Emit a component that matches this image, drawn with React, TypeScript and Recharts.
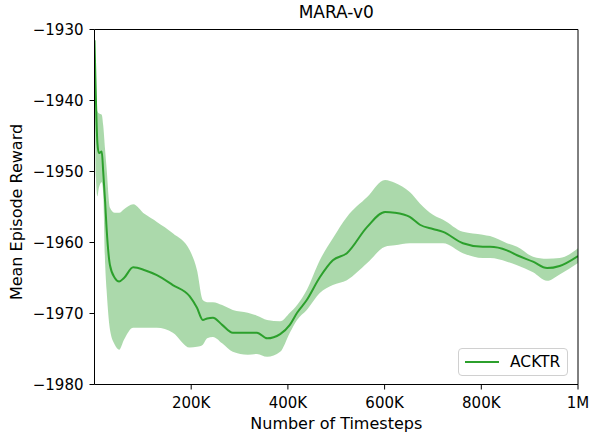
import React from "react";
import { ComposedChart, Area, Line, XAxis, YAxis, ReferenceLine } from "recharts";

// timesteps (thousands)
const steps = [0, 3, 6, 9, 15, 18, 22, 25, 32, 42, 51, 61, 80, 104, 129, 162, 197, 212, 224, 233, 245, 264, 286, 317, 336, 357, 384, 404, 419, 439, 466, 493, 522, 564, 601, 621, 652, 673, 700, 721, 762, 803, 818, 853, 874, 907, 936, 962, 1000];
const meanReward = [-1931.5, -1940, -1946, -1947.4, -1947.2, -1950, -1954.3, -1958, -1963.2, -1965, -1965.5, -1965, -1963.5, -1963.9, -1964.6, -1966, -1967.6, -1969.2, -1970.9, -1970.7, -1970.6, -1971.6, -1972.7, -1972.7, -1972.7, -1973.5, -1972.9, -1971.6, -1969.9, -1968.1, -1964.9, -1962.5, -1961.5, -1957.8, -1955.7, -1955.8, -1956.4, -1957.5, -1958.1, -1958.5, -1960.1, -1960.6, -1960.6, -1961.1, -1961.8, -1962.7, -1963.6, -1963.3, -1961.9];
const upperReward = [-1931, -1940, -1941.5, -1941.8, -1942, -1943.5, -1947, -1949.5, -1955.1, -1955.8, -1955.8, -1955.3, -1954.6, -1956, -1957.1, -1958.7, -1961.1, -1963.9, -1968.1, -1968.4, -1968.4, -1968.8, -1969.5, -1969.9, -1970.3, -1970.9, -1971.1, -1969.9, -1968.8, -1966.7, -1962.5, -1959.4, -1956.4, -1953.6, -1951.2, -1951.6, -1952.9, -1954.5, -1956.1, -1956.8, -1958.5, -1958.9, -1959.1, -1960.1, -1960.6, -1962, -1962.3, -1962.2, -1960.8];
const lowerReward = [-1932, -1951, -1953.5, -1952.3, -1951.5, -1953, -1963, -1966.7, -1972.3, -1974.4, -1975.1, -1973.7, -1972, -1972, -1972, -1972.7, -1974.8, -1974.7, -1974.4, -1973.5, -1973.3, -1974.2, -1975.4, -1975.8, -1975.7, -1976.1, -1975.4, -1972.7, -1970.9, -1969.5, -1967.1, -1966, -1965.3, -1962.9, -1960.6, -1960.4, -1960.1, -1960.1, -1960.1, -1960.1, -1961.5, -1962.2, -1962.2, -1962.7, -1963.2, -1964.2, -1965.4, -1964.5, -1962.9];

const xTicks = [200000, 400000, 600000, 800000, 1000000];
const yTicks = [-1980, -1970, -1960, -1950, -1940, -1930];

const GREEN = "#2ca02c";
const FONT = "'DejaVu Sans', sans-serif";

const data = steps.map((k, i) => ({
  t: k * 1000,
  mean: meanReward[i],
  band: [lowerReward[i], upperReward[i]],
}));

const fmtX = (v: number) => (v >= 1000000 ? `${v / 1000000}M` : `${v / 1000}K`);
const fmtY = (v: number) => (v < 0 ? `\u2212${Math.abs(v)}` : `${v}`);

const tickStyle = { fontSize: 15, fill: "#000", fontFamily: FONT };

function LegendBox() {
  return (
    <div
      style={{
        position: "absolute",
        left: 458,
        top: 348,
        width: 110,
        height: 28,
        border: "1px solid #d0d0d0",
        borderRadius: 4,
        background: "rgba(255,255,255,0.8)",
        display: "flex",
        alignItems: "center",
        fontFamily: FONT,
        fontSize: 15.5,
        color: "#000",
        boxSizing: "border-box",
      }}
    >
      <svg width={46} height={10} style={{ marginLeft: 5 }}>
        <line x1={1} y1={5} x2={35} y2={5} stroke={GREEN} strokeWidth={2} />
      </svg>
      <span>ACKTR</span>
    </div>
  );
}

export default function App() {
  return (
    <div style={{ position: "absolute", left: 0, top: 0, width: 589, height: 432, background: "#fff" }}>
      <ComposedChart
        width={589}
        height={432}
        data={data}
        margin={{ top: 29.5, right: 11, bottom: 17.5, left: 0 }}
      >
        <XAxis
          dataKey="t"
          type="number"
          domain={[0, 1000000]}
          ticks={xTicks}
          tickFormatter={fmtX}
          tick={tickStyle}
          stroke="#000"
          tickSize={5}
          tickMargin={8}
          height={30}
          allowDataOverflow
        />
        <YAxis
          type="number"
          domain={[-1980, -1930]}
          ticks={yTicks}
          tickFormatter={fmtY}
          tick={tickStyle}
          stroke="#000"
          tickSize={5}
          tickMargin={6}
          width={94.5}
          allowDataOverflow
        />
        <Area
          type="monotone"
          dataKey="band"
          stroke="none"
          fill={GREEN}
          fillOpacity={0.4}
          isAnimationActive={false}
          legendType="none"
        />
        <Line
          type="monotone"
          dataKey="mean"
          name="ACKTR"
          stroke={GREEN}
          strokeWidth={2}
          dot={false}
          isAnimationActive={false}
        />
        <ReferenceLine y={-1930} stroke="#000" strokeWidth={1} />
        <ReferenceLine x={1000000} stroke="#000" strokeWidth={1} />
      </ComposedChart>
      <LegendBox />
      <div style={{ position: "absolute", left: 94.5, width: 483.5, top: 2, textAlign: "center", fontFamily: FONT, fontSize: 17, color: "#000" }}>
        MARA-v0
      </div>
      <div style={{ position: "absolute", left: 94.5, width: 483.5, top: 414, textAlign: "center", fontFamily: FONT, fontSize: 16, color: "#000" }}>
        Number of Timesteps
      </div>
      <div
        style={{
          position: "absolute",
          left: 16,
          top: 212,
          transform: "translate(-50%, -50%) rotate(-90deg)",
          whiteSpace: "nowrap",
          fontFamily: FONT,
          fontSize: 16,
          color: "#000",
        }}
      >
        Mean Episode Reward
      </div>
    </div>
  );
}
